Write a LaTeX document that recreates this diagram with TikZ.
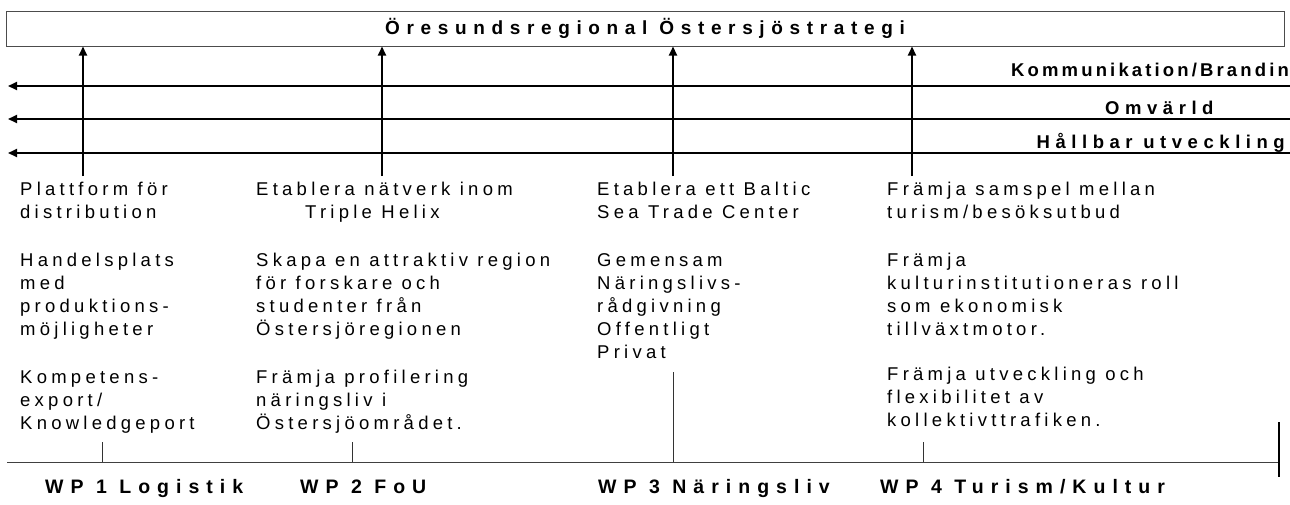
\documentclass[tikz,border=0pt]{standalone}
\usepackage{fontspec}
\setmainfont{Liberation Sans}
\newfontfamily\regf[LetterSpace=23]{Liberation Sans}
\newfontfamily\titf[LetterSpace=35]{Liberation Sans}
\newfontfamily\labf[LetterSpace=30]{Liberation Sans}
\newfontfamily\komf[LetterSpace=17]{Liberation Sans}
\newfontfamily\wpf[LetterSpace=36]{Liberation Sans}
\usetikzlibrary{arrows.meta}
\begin{document}
\begin{tikzpicture}[x=1pt,y=-1pt,
  txt/.style={anchor=base west,inner sep=0pt,font=\regf\fontsize{18.5}{22}\selectfont},
  lab/.style={inner sep=0pt,font=\labf\bfseries\fontsize{18.5}{21}\selectfont},
  wp/.style={anchor=base west,inner sep=0pt,font=\wpf\bfseries\fontsize{19.5}{22}\selectfont},
  arr/.style={line width=2pt,-{Triangle[width=8pt,length=9pt]}},
  thinln/.style={line width=1pt,draw=black!75},
  tick/.style={line width=1pt,draw=black!80}]
\useasboundingbox (0,0) rectangle (1290,504);
% title box
\node[draw=black!70,line width=1pt,minimum width=1278pt,minimum height=35pt,inner sep=0pt,
      font=\titf\bfseries\fontsize{19}{22}\selectfont] (box) at (645,28.5) {Öresundsregional Östersjöstrategi};
% horizontal arrows
\coordinate (h1r) at (1290,86);  \coordinate (h1l) at (8,86);
\coordinate (h2r) at (1290,119); \coordinate (h2l) at (8,119);
\coordinate (h3r) at (1290,153); \coordinate (h3l) at (8,153);
\draw[arr] (h1r) -- (h1l);
\draw[arr] (h2r) -- (h2l);
\draw[arr] (h3r) -- (h3l);
\node[inner sep=0pt,font=\komf\bfseries\fontsize{18.5}{21}\selectfont,anchor=base west] (kom) at (1011,76) {Kommunikation/Branding};
\node[lab,anchor=base west] (omv) at (1105,114) {Omvärld};
\node[lab,anchor=base east] (hal) at (1285,148) {Hållbar utveckling};
% vertical arrows
\coordinate (v1) at (83,176);
\coordinate (v2) at (382,176);
\coordinate (v3) at (673,176);
\coordinate (v4) at (912,176);
\draw[arr] (v1) -- (v1 |- box.south);
\draw[arr] (v2) -- (v2 |- box.south);
\draw[arr] (v3) -- (v3 |- box.south);
\draw[arr] (v4) -- (v4 |- box.south);
% column 1
\node[txt] (a1) at (20,195.5) {Plattform för};
\node[txt] (a2) at (20,218.5) {distribution};
\node[txt] (a3) at (20,266) {Handelsplats};
\node[txt] (a4) at (20,289) {med};
\node[txt] (a5) at (20,312) {produktions-};
\node[txt] (a6) at (20,335) {möjligheter};
\node[txt] (a7) at (20,383) {Kompetens-};
\node[txt] (a8) at (20,406) {export/};
\node[txt] (a9) at (20,429) {Knowledgeport};
% column 2
\node[txt] (b1) at (256,195.5) {Etablera nätverk inom};
\node[txt] (b2) at (305,218.5) {Triple Helix};
\node[txt] (b3) at (256,266) {Skapa en attraktiv region};
\node[txt] (b4) at (256,289) {för forskare och};
\node[txt] (b5) at (256,312) {studenter från};
\node[txt] (b6) at (256,335) {Östersjöregionen};
\node[txt] (b7) at (256,383) {Främja profilering};
\node[txt] (b8) at (256,406) {näringsliv i};
\node[txt] (b9) at (256,429) {Östersjöområdet.};
% column 3
\node[txt] (c1) at (597,195.5) {Etablera ett Baltic};
\node[txt] (c2) at (597,218.5) {Sea Trade Center};
\node[txt] (c3) at (597,266) {Gemensam};
\node[txt] (c4) at (597,289) {Näringslivs-};
\node[txt] (c5) at (597,312) {rådgivning};
\node[txt] (c6) at (597,335) {Offentligt};
\node[txt] (c7) at (597,358) {Privat};
% column 4
\node[txt] (d1) at (887,195.5) {Främja samspel mellan};
\node[txt] (d2) at (887,218.5) {turism/besöksutbud};
\node[txt] (d3) at (887,266) {Främja};
\node[txt] (d4) at (887,289) {kulturinstitutioneras roll};
\node[txt] (d5) at (887,312) {som ekonomisk};
\node[txt] (d6) at (887,335) {tillväxtmotor.};
\node[txt] (d7) at (887,380) {Främja utveckling och};
\node[txt] (d8) at (887,403) {flexibilitet av};
\node[txt] (d9) at (887,426) {kollektivttrafiken.};
% baseline and ticks
\coordinate (bl) at (7,462); \coordinate (br) at (1279,462);
\draw[thinln] (bl) -- (br);
\coordinate (t1) at (102,442); \draw[tick] (t1) -- (t1 |- bl);
\coordinate (t2) at (352,442); \draw[tick] (t2) -- (t2 |- bl);
\coordinate (t3) at (673,372); \draw[tick] (t3) -- (t3 |- bl);
\coordinate (t4) at (923,442); \draw[tick] (t4) -- (t4 |- bl);
\coordinate (t5a) at (1279,422); \coordinate (t5b) at (1279,477);
\draw[line width=1.6pt] (t5a) -- (t5b);
% WP labels
\node[wp] (wp1) at (45,493) {WP 1 Logistik};
\node[wp] (wp2) at (300,493) {WP 2 FoU};
\node[wp] (wp3) at (598,493) {WP 3 Näringsliv};
\node[wp] (wp4) at (880,493) {WP 4 Turism/Kultur};
\end{tikzpicture}
\end{document}
